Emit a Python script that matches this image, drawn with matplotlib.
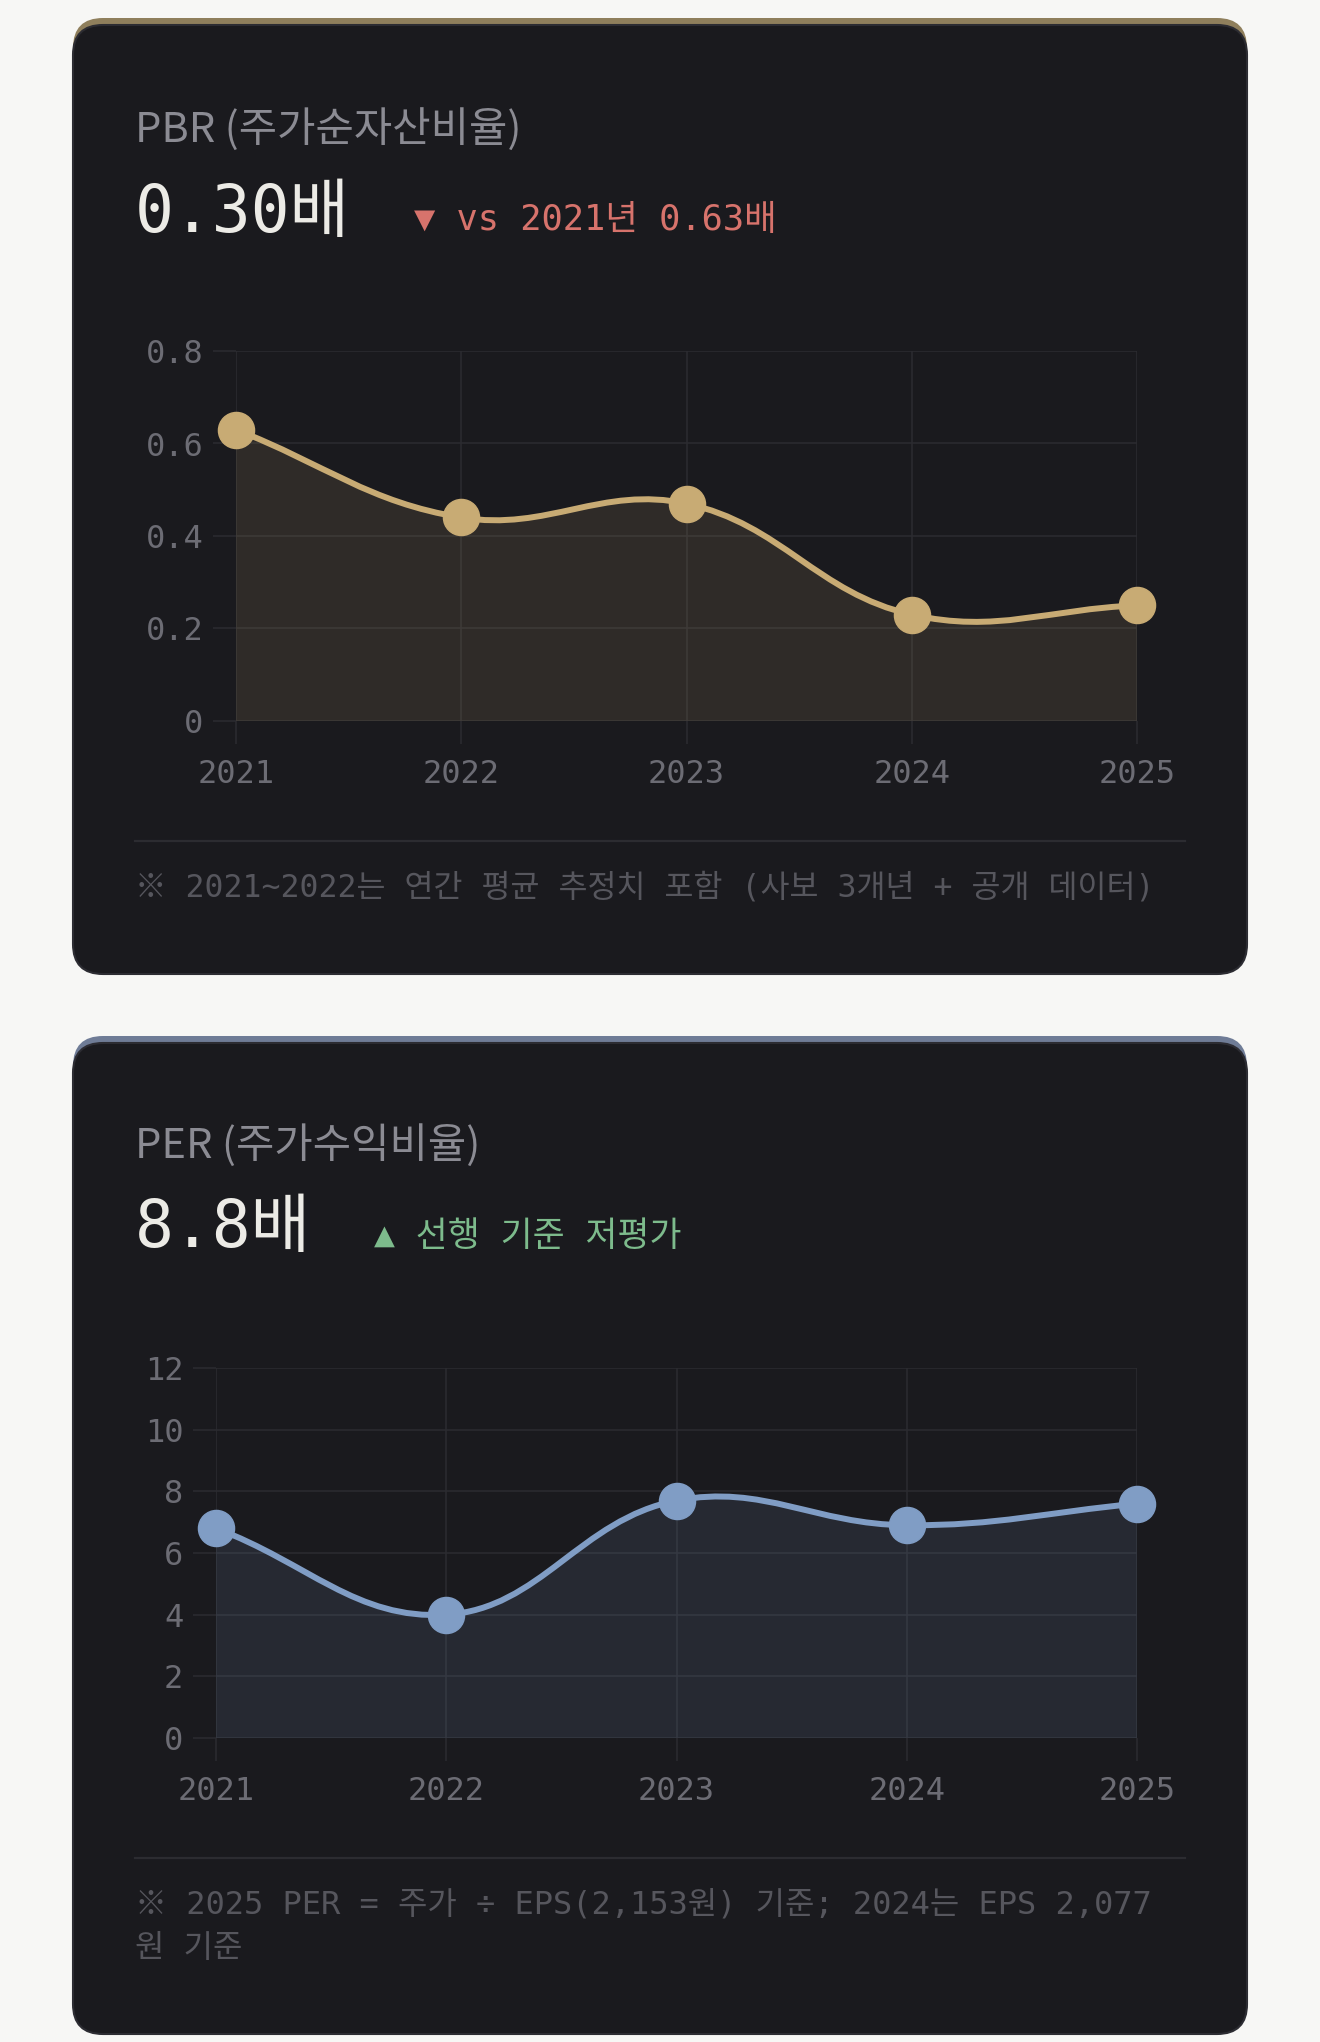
import matplotlib
matplotlib.use("Agg")
import matplotlib.pyplot as plt
from matplotlib.patches import FancyBboxPatch, PathPatch
from matplotlib.path import Path
import numpy as np

# data
years = [2021, 2022, 2023, 2024, 2025]
pbr = [0.63, 0.44, 0.47, 0.23, 0.25]
per = [6.8, 4.0, 7.7, 6.9, 7.6]
pbr_ticks = [0, 0.2, 0.4, 0.6, 0.8]
pbr_tick_labels = ["0", "0.2", "0.4", "0.6", "0.8"]
per_ticks = [0, 2, 4, 6, 8, 10, 12]

W, H = 1320, 2042
BG = "#f7f7f5"
CARD = "#1a1a1e"
GRID = "#2c2c31"
TICK = "#6c6c74"
GOLD = "#c8ab74"
BLUE = "#809dc5"
SANS = ["Noto Sans CJK KR", "DejaVu Sans"]
MONO = ["DejaVu Sans Mono", "Noto Sans CJK KR"]

fig = plt.figure(figsize=(W / 100, H / 100), dpi=100, facecolor=BG)
bg = fig.add_axes([0, 0, 1, 1])
bg.set_xlim(0, W)
bg.set_ylim(H, 0)
bg.axis("off")


def card(y0, y1, accent):
    x0, x1, r = 73, 1247, 30
    bg.add_patch(FancyBboxPatch((x0, y0), x1 - x0, y1 - y0,
                                boxstyle=f"round,pad=0,rounding_size={r}",
                                fc=accent, ec="none", zorder=1))
    bg.add_patch(FancyBboxPatch((x0, y0 + 7), x1 - x0, y1 - y0 - 7,
                                boxstyle=f"round,pad=0,rounding_size={r}",
                                fc=CARD, ec="#2c2c32", lw=1.5, zorder=2))


card(18, 974, "#8f7f5c")
card(1036, 2034, "#6f7c96")


def px_axes(x0, y0, x1, y1):
    return fig.add_axes([x0 / W, 1 - y1 / H, (x1 - x0) / W, (y1 - y0) / H])


def spline_path(ax, xs, ys, t=0.4):
    # chart.js style bezier control points computed in pixel space
    pts = ax.transData.transform(np.column_stack([xs, ys]))
    n = len(pts)
    cps = []
    for i in range(n):
        prev = pts[max(i - 1, 0)]
        cur = pts[i]
        nxt = pts[min(i + 1, n - 1)]
        d01 = np.hypot(*(cur - prev))
        d12 = np.hypot(*(nxt - cur))
        tot = d01 + d12
        s01 = d01 / tot if tot else 0
        s12 = d12 / tot if tot else 0
        cps.append((cur - t * s01 * (nxt - prev), cur + t * s12 * (nxt - prev)))
    verts = [pts[0]]
    codes = [Path.MOVETO]
    for i in range(n - 1):
        verts += [cps[i][1], cps[i + 1][0], pts[i + 1]]
        codes += [Path.CURVE4] * 3
    inv = ax.transData.inverted()
    return inv.transform(np.array(verts)), codes


def chart(ax, xs, ys, color, ticks, labels, ymax):
    ax.set_facecolor("none")
    ax.set_xlim(xs[0], xs[-1])
    ax.set_ylim(0, ymax)
    for s in ax.spines.values():
        s.set_visible(False)
    ax.set_xticks(xs)
    ax.set_xticklabels([str(x) for x in xs])
    ax.set_yticks(ticks)
    ax.set_yticklabels(labels)
    ax.grid(True, color=GRID, lw=1.1)
    ax.set_axisbelow(True)
    ax.tick_params(axis="both", color=GRID, width=1.1, length=16.5,
                   labelcolor=TICK, labelsize=23)
    ax.tick_params(axis="x", pad=11)
    ax.tick_params(axis="y", pad=7)
    for lab in ax.get_xticklabels() + ax.get_yticklabels():
        lab.set_fontfamily(MONO)
    verts, codes = spline_path(ax, xs, ys)
    fill_verts = np.vstack([verts, [[xs[-1], 0], [xs[0], 0], verts[0]]])
    fill_codes = codes + [Path.LINETO, Path.LINETO, Path.CLOSEPOLY]
    ax.add_patch(PathPatch(Path(fill_verts, fill_codes), fc=color, alpha=0.12,
                           ec="none", zorder=2))
    ax.add_patch(PathPatch(Path(verts, codes), fc="none", ec=color, lw=4.3,
                           zorder=3, capstyle="round"))
    ax.plot(xs, ys, "o", ms=26, color=color, mec=color, zorder=4, clip_on=False)


ax1 = px_axes(236, 351, 1137, 721)
chart(ax1, years, pbr, GOLD, pbr_ticks, pbr_tick_labels, 0.8)
ax2 = px_axes(216, 1368, 1137, 1738)
chart(ax2, years, per, BLUE, per_ticks, [str(v) for v in per_ticks], 12)

NOTE = "#56565d"

# card 1 texts
bg.text(135, 129, "PBR (주가순자산비율)", family=SANS, fontsize=30,
        color="#8b8b93", va="center", zorder=5)
bg.text(135, 232, "0.30배", family=MONO, fontsize=46.5, color="#ecebe6",
        va="baseline", zorder=5)
bg.text(414, 230, "▼ vs 2021년 0.63배", family=MONO, fontsize=25.5,
        color="#d7736c", va="baseline", zorder=5)
bg.plot([135, 1185], [841, 841], color=GRID, lw=1.6, zorder=5)
bg.text(135, 888, "※ 2021~2022는 연간 평균 추정치 포함 (사보 3개년 + 공개 데이터)",
        family=MONO, fontsize=22.7, color=NOTE, va="center", zorder=5)

# card 2 texts
bg.text(135, 1145, "PER (주가수익비율)", family=SANS, fontsize=30,
        color="#8b8b93", va="center", zorder=5)
bg.text(135, 1247, "8.8배", family=MONO, fontsize=46.5, color="#ecebe6",
        va="baseline", zorder=5)
bg.text(374, 1246, "▲ 선행 기준 저평가", family=MONO, fontsize=25,
        color="#7dbb8c", va="baseline", zorder=5)
bg.plot([135, 1185], [1858, 1858], color=GRID, lw=1.6, zorder=5)
bg.text(135, 1905, "※ 2025 PER = 주가 ÷ EPS(2,153원) 기준; 2024는 EPS 2,077",
        family=MONO, fontsize=23, color=NOTE, va="center", zorder=5)
bg.text(135, 1948, "원 기준", family=MONO, fontsize=23, color=NOTE,
        va="center", zorder=5)

fig.savefig("out.png", dpi=100, facecolor=BG)
